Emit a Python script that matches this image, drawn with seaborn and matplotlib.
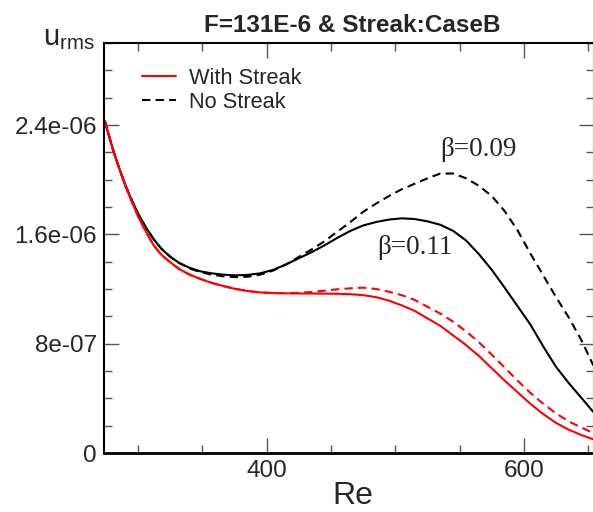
import numpy as np
import matplotlib
matplotlib.use("Agg")
import matplotlib.pyplot as plt
from matplotlib.lines import Line2D
from matplotlib.ticker import MultipleLocator, FuncFormatter
import seaborn as sns

# Reynolds number samples
re_vals = [274, 277, 281, 285, 290, 295, 300, 306, 312, 318, 325, 332, 340,
           348, 357, 366, 375, 385, 395, 405, 415, 425, 435, 445, 455, 465,
           475, 485, 495, 505, 515, 525, 535, 545, 555, 565, 575, 585, 595,
           605, 615, 625, 635, 645, 654]

# u_rms in units of 1e-6
beta011_no_streak = [2.43, 2.33, 2.20, 2.09, 1.96, 1.85, 1.75, 1.65, 1.565, 1.495,
                     1.435, 1.39, 1.355, 1.33, 1.315, 1.305, 1.30, 1.303, 1.315,
                     1.34, 1.38, 1.425, 1.47, 1.52, 1.575, 1.625, 1.665, 1.69,
                     1.708, 1.717, 1.712, 1.695, 1.67, 1.625, 1.555, 1.455, 1.34,
                     1.21, 1.075, 0.94, 0.78, 0.63, 0.51, 0.40, 0.30]
beta009_no_streak = [2.43, 2.33, 2.20, 2.09, 1.96, 1.85, 1.75, 1.65, 1.565, 1.495,
                     1.435, 1.39, 1.35, 1.325, 1.305, 1.293, 1.287, 1.29, 1.305,
                     1.335, 1.38, 1.435, 1.49, 1.55, 1.62, 1.69, 1.765, 1.825,
                     1.88, 1.93, 1.97, 2.01, 2.045, 2.045, 2.01, 1.955, 1.88,
                     1.77, 1.63, 1.46, 1.30, 1.14, 0.99, 0.82, 0.64]
beta011_streak = [2.43, 2.33, 2.20, 2.09, 1.955, 1.84, 1.73, 1.62, 1.52, 1.45,
                  1.395, 1.345, 1.305, 1.275, 1.245, 1.222, 1.202, 1.185, 1.175,
                  1.17, 1.168, 1.167, 1.167, 1.166, 1.165, 1.162, 1.155, 1.14,
                  1.115, 1.08, 1.04, 0.985, 0.93, 0.86, 0.79, 0.71, 0.62, 0.53,
                  0.445, 0.36, 0.285, 0.22, 0.17, 0.13, 0.10]
beta009_streak = [2.43, 2.33, 2.20, 2.09, 1.955, 1.84, 1.73, 1.62, 1.52, 1.45,
                  1.395, 1.345, 1.305, 1.275, 1.245, 1.222, 1.202, 1.185, 1.175,
                  1.17, 1.17, 1.172, 1.178, 1.188, 1.198, 1.205, 1.21, 1.20,
                  1.18, 1.155, 1.12, 1.07, 1.02, 0.96, 0.89, 0.81, 0.72, 0.625,
                  0.53, 0.44, 0.36, 0.29, 0.23, 0.185, 0.145]

sns.set_style("ticks")
plt.rcParams['font.family'] = ['Liberation Sans', 'DejaVu Sans']

fig = plt.figure(figsize=(5.93, 5.12), dpi=100)
ax = fig.add_axes([104 / 593, 59 / 512, 490 / 593, 410 / 512])

scale = 1e-6
dash = (4, 2.5)
sns.lineplot(x=re_vals, y=np.array(beta011_no_streak) * scale, ax=ax,
             color='black', lw=1.5, sort=False)
sns.lineplot(x=re_vals, y=np.array(beta009_no_streak) * scale, ax=ax,
             color='black', lw=1.5, sort=False).lines[-1].set_dashes(dash)
sns.lineplot(x=re_vals, y=np.array(beta011_streak) * scale, ax=ax,
             color='red', lw=1.5, sort=False)
sns.lineplot(x=re_vals, y=np.array(beta009_streak) * scale, ax=ax,
             color='red', lw=1.5, sort=False).lines[-1].set_dashes(dash)

ax.set_xlim(273.4, 654.5)
ax.set_ylim(0, 3e-6)

ax.xaxis.set_major_locator(MultipleLocator(200))
ax.xaxis.set_minor_locator(MultipleLocator(50))
ax.yaxis.set_major_locator(MultipleLocator(8e-7))
ax.yaxis.set_minor_locator(MultipleLocator(2e-7))
ax.yaxis.set_major_formatter(FuncFormatter(lambda v, p: '0' if abs(v) < 1e-12 else '%g' % v))

ax.tick_params(which='both', direction='in', top=True, right=True,
               color='#555555', width=1.0, labelsize=17.5)
ax.tick_params(which='major', length=11, pad=5)
ax.tick_params(which='minor', length=5.5)
for s in ax.spines.values():
    s.set_linewidth(1.5)
    s.set_color('black')
ax.spines['bottom'].set_linewidth(2)

ax.set_xlabel('')
ax.set_ylabel('')

fig.text(353 / 593, 1 / 512, 'Re', ha='center', va='bottom', fontsize=23)
fig.text(352 / 593, 1 - 25 / 512, 'F=131E-6 & Streak:CaseB', ha='center',
         va='center', fontsize=17.5, fontweight='bold')
fig.text(43 / 593, 1 - 45 / 512, r'$\mathregular{u_{rms}}$', ha='left',
         va='baseline', fontsize=21)

ax.text(534.7, 2.22e-6, 'β=0.09', family=['Liberation Serif', 'DejaVu Serif'],
        fontsize=19.5, ha='left', va='center')
ax.text(485.7, 1.50e-6, 'β=0.11', family=['Liberation Serif', 'DejaVu Serif'],
        fontsize=19.5, ha='left', va='center')

handles = [Line2D([], [], color='red', lw=1.5),
           Line2D([], [], color='black', lw=1.5, dashes=dash)]
ax.legend(handles, ['With Streak', 'No Streak'], loc='upper left',
          bbox_to_anchor=(0.06, 0.96), frameon=False, fontsize=15.7,
          handlelength=1.56, handletextpad=0.6, labelspacing=0.12,
          borderaxespad=0)

fig.savefig('out.png', dpi=100)
